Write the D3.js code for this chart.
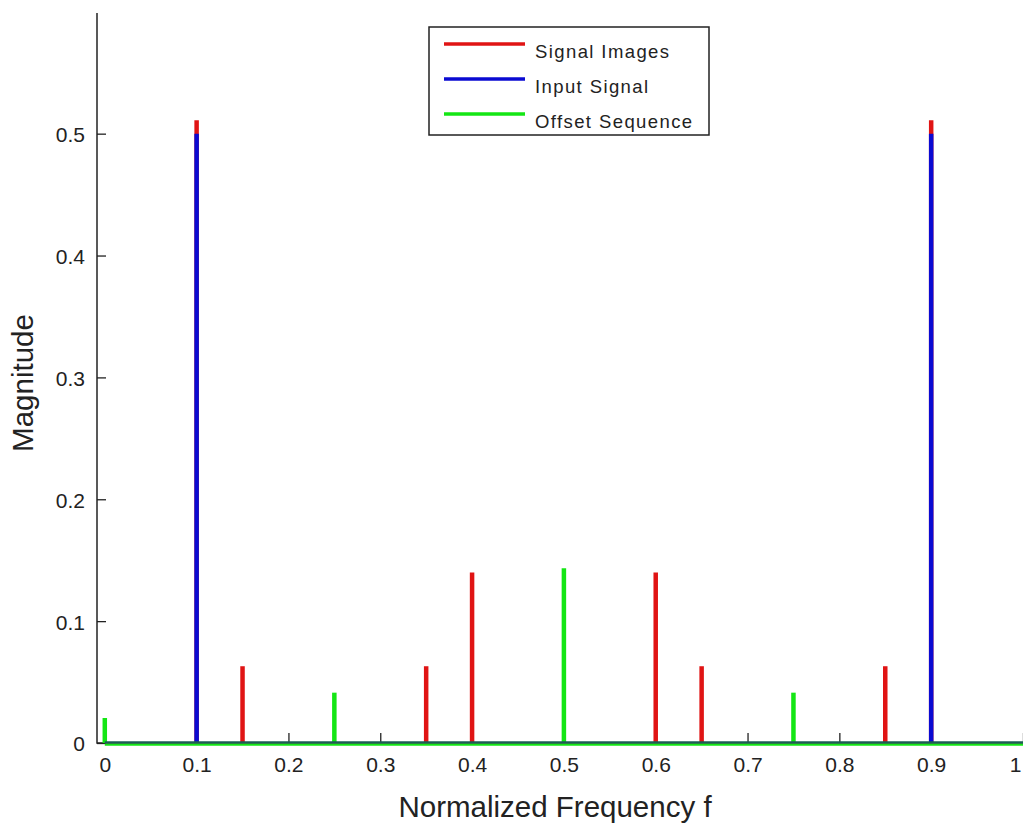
<!DOCTYPE html>
<html>
<head>
<meta charset="utf-8">
<script src="https://cdn.jsdelivr.net/npm/d3@7"></script>
<style>
  html, body { margin: 0; padding: 0; background: #fff; }
  svg { display: block; }
  text { font-family: "Liberation Sans", Arial, sans-serif; fill: #222; }
</style>
</head>
<body>
<svg id="chart" width="1023" height="823"></svg>
<script>
// ---- data ----
const imageFreqs = [0.1, 0.15, 0.35, 0.4, 0.6, 0.65, 0.85, 0.9];
const imageMags  = [0.511, 0.063, 0.063, 0.140, 0.140, 0.063, 0.063, 0.511];
const inputFreqs = [0.1, 0.9];
const inputMags  = [0.5, 0.5];
const offsetFreqs = [0, 0.25, 0.5, 0.75];
const offsetMags  = [0.0205, 0.0413, 0.1433, 0.0413];
const xTicks = [0, 0.1, 0.2, 0.3, 0.4, 0.5, 0.6, 0.7, 0.8, 0.9, 1];
const yTicks = [0, 0.1, 0.2, 0.3, 0.4, 0.5];
const seriesNames = ["Signal Images", "Input Signal", "Offset Sequence"];
const seriesColors = ["#e01414", "#0a0ad2", "#14e614"];

const svg = d3.select("#chart");
const x = d3.scaleLinear().domain([0, 1]).range([104.8, 1023]);
const y = d3.scaleLinear().domain([0, 0.6]).range([743, 11.8]);

// axes (MATLAB style, inward ticks)
const gx = svg.append("g").attr("transform", `translate(0,${y(0)})`)
  .call(d3.axisBottom(x).tickValues(xTicks).tickSizeInner(-10).tickSizeOuter(0)
        .tickPadding(14).tickFormat(d3.format("~g")));
gx.select(".domain").remove();
gx.append("line").attr("x1", 97).attr("x2", 1023).attr("y1", 0).attr("y2", 0)
  .attr("stroke", "#222").attr("stroke-width", 1.5);
gx.selectAll(".tick line").attr("stroke", "#222").attr("stroke-width", 1.3);
gx.selectAll(".tick text").attr("font-size", 21).attr("fill", "#222")
  .attr("font-family", "Liberation Sans, Arial, sans-serif");
// keep the last label ("1") inside the picture
gx.selectAll(".tick text").filter(d => d === 1)
  .attr("text-anchor", "end").attr("dx", -2);

const gy = svg.append("g").attr("transform", `translate(97,0)`)
  .call(d3.axisLeft(y).tickValues(yTicks).tickSizeInner(-9).tickSizeOuter(0)
        .tickPadding(12).tickFormat(d3.format("~g")));
gy.select(".domain").remove();
gy.append("line").attr("x1", 0).attr("x2", 0).attr("y1", 13).attr("y2", y(0) + 0.75)
  .attr("stroke", "#222").attr("stroke-width", 1.5);
gy.selectAll(".tick line").attr("stroke", "#222").attr("stroke-width", 1.3);
gy.selectAll(".tick text").attr("font-size", 21).attr("fill", "#222")
  .attr("dy", "0.38em")
  .attr("font-family", "Liberation Sans, Arial, sans-serif");

// stems
function stems(freqs, mags, color) {
  svg.append("g").selectAll("line").data(freqs.map((f, i) => [f, mags[i]]))
    .join("line")
    .attr("x1", d => x(d[0])).attr("x2", d => x(d[0]))
    .attr("y1", y(0)).attr("y2", d => y(d[1]))
    .attr("stroke", color).attr("stroke-width", 4.5);
}
stems(imageFreqs, imageMags, seriesColors[0]);
stems(inputFreqs, inputMags, seriesColors[1]);
stems(offsetFreqs, offsetMags, seriesColors[2]);

// baselines
svg.append("line").attr("x1", x(0)).attr("x2", 1023)
  .attr("y1", y(0) + 1.6).attr("y2", y(0) + 1.6)
  .attr("stroke", seriesColors[2]).attr("stroke-width", 2.2);
svg.append("line").attr("x1", x(0)).attr("x2", 1023)
  .attr("y1", y(0) - 0.6).attr("y2", y(0) - 0.6)
  .attr("stroke", "#1d5c55").attr("stroke-width", 2.4);

// axis labels
svg.append("text").attr("x", 555).attr("y", 817).attr("text-anchor", "middle")
  .attr("font-size", 29.5).text("Normalized Frequency f");
svg.append("text").attr("transform", "translate(33,383) rotate(-90)")
  .attr("text-anchor", "middle").attr("font-size", 29.5).text("Magnitude");

// legend
const lg = svg.append("g");
lg.append("rect").attr("x", 429).attr("y", 27).attr("width", 280).attr("height", 108)
  .attr("fill", "#fff").attr("stroke", "#222").attr("stroke-width", 1.5);
seriesNames.forEach((name, i) => {
  const yy = 44 + i * 35;
  lg.append("line").attr("x1", 444).attr("x2", 525).attr("y1", yy).attr("y2", yy)
    .attr("stroke", seriesColors[i]).attr("stroke-width", 3.5);
  lg.append("text").attr("x", 535).attr("y", yy + 14).attr("font-size", 18.5)
    .attr("letter-spacing", 1.4)
    .attr("font-family", "DejaVu Sans, sans-serif")
    .text(name);
});
</script>
</body>
</html>
